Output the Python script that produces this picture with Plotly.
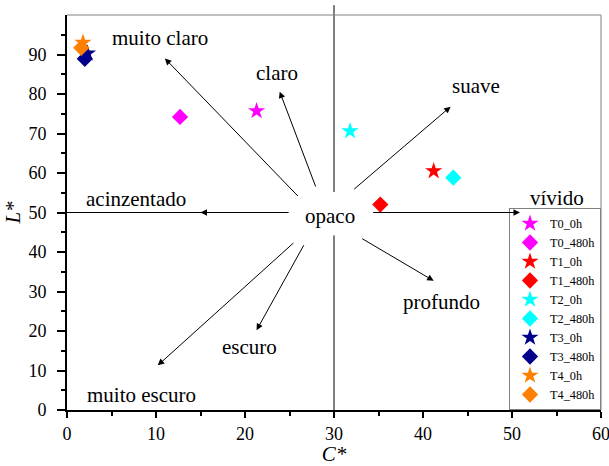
import plotly.graph_objects as go

# ---- data ----
names = ["T0_0h", "T0_480h", "T1_0h", "T1_480h", "T2_0h", "T2_480h",
         "T3_0h", "T3_480h", "T4_0h", "T4_480h"]
c_star = [21.3, 12.7, 41.2, 35.2, 31.8, 43.4, 2.3, 2.0, 1.8, 1.6]
l_star = [75.7, 74.2, 60.5, 52.0, 70.6, 58.8, 90.3, 88.9, 93.0, 91.7]
colors = ["#FF00FF", "#FF00FF", "#FF0000", "#FF0000", "#00FFFF", "#00FFFF",
          "#00008B", "#00008B", "#FF8000", "#FF8000"]
symbols = ["star", "diamond"] * 5

x_ticks = [0, 10, 20, 30, 40, 50, 60]
y_ticks = [0, 10, 20, 30, 40, 50, 60, 70, 80, 90]

# region labels (text, x, y)
labels = [("muito claro", 10.4, 94.3), ("claro", 23.6, 85.2), ("suave", 46.0, 82.1),
          ("vívido", 55.0, 53.6), ("acinzentado", 7.8, 53.5), ("opaco", 29.5, 49.0),
          ("profundo", 42.1, 27.3), ("escuro", 20.5, 15.9), ("muito escuro", 8.4, 3.9)]
# arrows: (tail_x, tail_y, head_x, head_y)
arrows = [(26.1, 53.8, 11.0, 89.0), (28.0, 56.2, 23.9, 80.6), (32.1, 55.6, 43.1, 76.8),
          (34.4, 50.0, 50.9, 50.0), (24.9, 50.0, 15.0, 50.0), (33.0, 43.6, 41.2, 32.7),
          (26.7, 42.1, 21.3, 20.2), (25.6, 42.6, 10.2, 11.3)]

FONT = "Liberation Serif"

fig = go.Figure()
for n, cx, ly, col, sym in zip(names, c_star, l_star, colors, symbols):
    fig.add_trace(go.Scatter(
        x=[cx], y=[ly], mode="markers", name=n,
        marker=dict(symbol=sym, color=col, size=13 if sym == "star" else 12.5,
                    line=dict(width=0)),
        cliponaxis=False))

annotations = []
for t, x, y in labels:
    annotations.append(dict(text=t, x=x, y=y, xref="x", yref="y", showarrow=False,
                            font=dict(family=FONT, size=21, color="black")))
for tx, ty, hx, hy in arrows:
    annotations.append(dict(text="", x=hx, y=hy, ax=tx, ay=ty, xref="x", yref="y",
                            axref="x", ayref="y", showarrow=True, arrowhead=2,
                            arrowsize=1.3, arrowwidth=1, arrowcolor="black",
                            standoff=0, startstandoff=0))

line_k = dict(color="black", width=1)
shapes = [
    dict(type="line", xref="x", yref="y", x0=0, x1=24.9, y0=50, y1=50, line=line_k),
    dict(type="line", xref="x", yref="y", x0=34.4, x1=59.2, y0=50, y1=50, line=line_k),
    dict(type="line", xref="x", yref="y", x0=30, x1=30, y0=0, y1=44.2, line=line_k),
    dict(type="line", xref="paper", yref="paper", x0=30 / 60, x1=30 / 60,
         y0=55.2 / 100, y1=1.025, line=line_k),
    # frame top / right
    dict(type="line", xref="paper", yref="paper", x0=0, x1=1, y0=1, y1=1,
         line=dict(color="#808080", width=1)),
    dict(type="line", xref="paper", yref="paper", x0=1, x1=1, y0=0, y1=1,
         line=dict(color="#808080", width=1)),
]

axis_common = dict(showgrid=False, zeroline=False, showline=True, linecolor="black",
                   linewidth=2, ticks="outside", tickwidth=1.5,
                   tickcolor="black", ticklabeloverflow="allow",
                   tickfont=dict(family=FONT, size=18, color="black"))

fig.update_layout(
    width=609, height=466,
    margin=dict(l=67, r=8, t=15, b=56, autoexpand=False),
    paper_bgcolor="white", plot_bgcolor="white",
    font=dict(family=FONT, color="black"),
    xaxis=dict(range=[0, 60], tickvals=x_ticks, ticklen=6, **axis_common,
               ticklabelstandoff=0,
               minor=dict(tickvals=[5, 15, 25, 35, 45, 55], ticks="outside",
                          ticklen=4, tickwidth=1.5, tickcolor="black"),
               title=dict(text="<i>C*</i>", font=dict(family=FONT, size=21),
                          standoff=7)),
    yaxis=dict(range=[0, 100], tickvals=y_ticks, ticklen=8, **axis_common,
               ticklabelstandoff=7,
               minor=dict(tickvals=[5, 15, 25, 35, 45, 55, 65, 75, 85, 95],
                          ticks="outside", ticklen=4, tickwidth=1.5,
                          tickcolor="black"),
               title=dict(text="<i>L*</i>", font=dict(family=FONT, size=21),
                          standoff=2)),
    legend=dict(x=1, y=0, xanchor="right", yanchor="bottom",
                bgcolor="white", bordercolor="#808080", borderwidth=1,
                font=dict(family=FONT, size=12.3, color="black"),
                tracegroupgap=0),
    showlegend=True,
    annotations=annotations,
    shapes=shapes,
)

fig.write_html("out.html", config={"displayModeBar": False},
               post_script="document.body.style.margin='0';document.body.style.padding='0';")
